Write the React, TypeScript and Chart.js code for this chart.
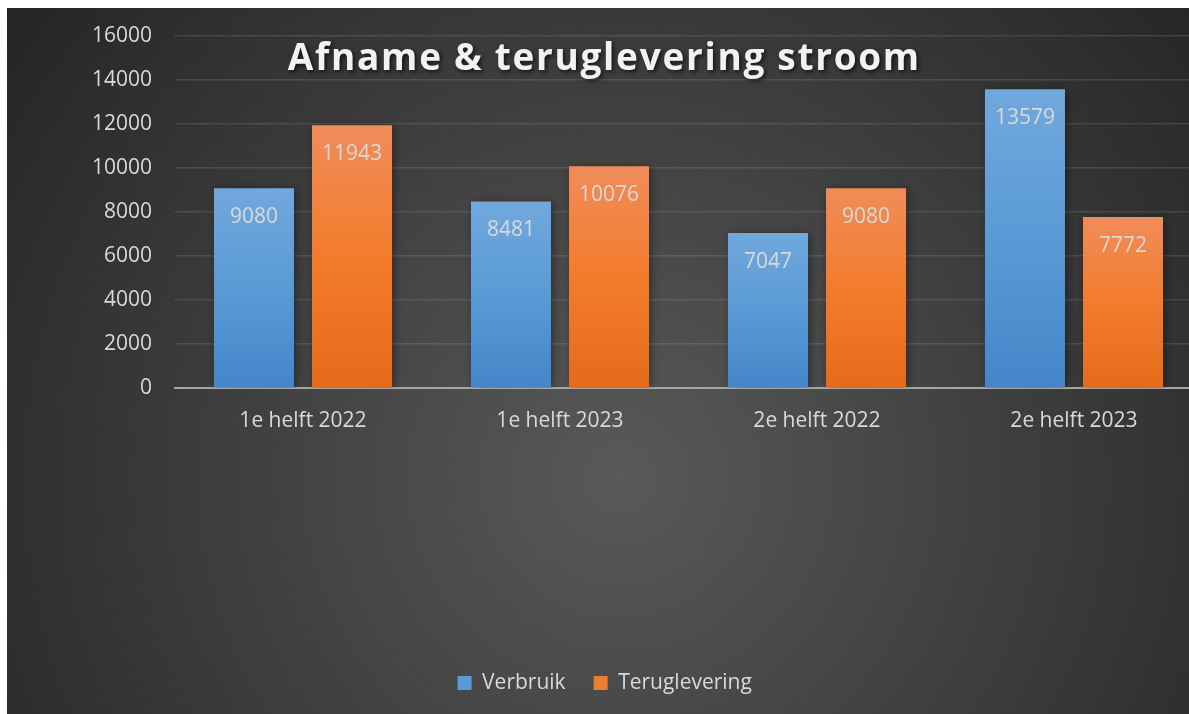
import React, { useEffect, useRef } from "react";
import { Chart, registerables } from "chart.js";

Chart.register(...registerables);

const categories = ["1e helft 2022", "1e helft 2023", "2e helft 2022", "2e helft 2023"];
const verbruik = [9080, 8481, 7047, 13579];
const teruglevering = [11943, 10076, 9080, 7772];
const seriesNames = ["Verbruik", "Teruglevering"];
const yMin = 0;
const yMax = 16000;
const yStep = 2000;
const chartTitle = "Afname & teruglevering stroom";

const FONT = "'Open Sans', 'Noto Sans', sans-serif";
const TEXT = "#d9d9d9";
const BLUE_STOPS = ["#71a8dd", "#5a9ad6", "#4486c9"];
const ORANGE_STOPS = ["#f08c5a", "#f37c2c", "#e56b1a"];
const BLUE_SOLID = "#5b9bd5";
const ORANGE_SOLID = "#ed7d31";

const W = 1200;
const H = 706;

function barGradient(stops: string[]) {
  return (ctx: any) => {
    const chart = ctx.chart;
    const y = chart.scales && chart.scales.y;
    if (!y || ctx.raw == null || ctx.type !== "data") return stops[1];
    const top = y.getPixelForValue(ctx.raw);
    const bottom = y.getPixelForValue(0);
    if (!isFinite(top) || !isFinite(bottom) || top === bottom) return stops[1];
    const g = chart.ctx.createLinearGradient(0, top, 0, bottom);
    g.addColorStop(0, stops[0]);
    g.addColorStop(0.5, stops[1]);
    g.addColorStop(1, stops[2]);
    return g;
  };
}

const backgroundPlugin = {
  id: "bgPlugin",
  beforeDraw(chart: any) {
    const c = chart.ctx;
    c.save();
    const cx = 613;
    const cy = 470;
    const g = c.createRadialGradient(cx, cy, 0, cx, cy, 780);
    g.addColorStop(0, "#595959");
    g.addColorStop(1, "#242424");
    c.fillStyle = g;
    c.fillRect(0, 0, chart.width, chart.height);
    c.restore();
  },
};

const barDecorPlugin = {
  id: "barDecor",
  beforeDatasetsDraw(chart: any) {
    const c = chart.ctx;
    c.save();
    c.shadowColor = "rgba(0,0,0,0.45)";
    c.shadowBlur = 9;
    c.shadowOffsetX = 2;
    c.shadowOffsetY = 1;
  },
  afterDatasetsDraw(chart: any) {
    const c = chart.ctx;
    c.restore();
    c.save();
    c.font = `21px ${FONT}`;
    c.fillStyle = TEXT;
    c.textAlign = "center";
    c.textBaseline = "alphabetic";
    chart.data.datasets.forEach((ds: any, di: number) => {
      const meta = chart.getDatasetMeta(di);
      meta.data.forEach((bar: any, i: number) => {
        c.fillText(String(ds.data[i]), bar.x, bar.y + 35);
      });
    });
    c.restore();
  },
  afterDraw(chart: any) {
    const c = chart.ctx;
    c.save();
    c.font = `bold 37px ${FONT}`;
    (c as any).letterSpacing = "0px";
    const base = c.measureText(chartTitle).width;
    const target = 633;
    const n = chartTitle.length;
    const ls = Math.max(0, (target - base) / n);
    (c as any).letterSpacing = `${ls}px`;
    c.textAlign = "center";
    c.textBaseline = "alphabetic";
    c.shadowColor = "rgba(0,0,0,0.65)";
    c.shadowBlur = 4;
    c.shadowOffsetX = 2;
    c.shadowOffsetY = 2;
    c.fillStyle = "#f2f2f2";
    c.fillText(chartTitle, 596.5 + ls / 2, 62);
    c.restore();
  },
};

export default function App() {
  const ref = useRef<HTMLCanvasElement | null>(null);

  useEffect(() => {
    if (!ref.current) return;
    const chart = new Chart(ref.current, {
      type: "bar",
      data: {
        labels: categories,
        datasets: [
          {
            label: seriesNames[0],
            data: verbruik,
            backgroundColor: barGradient(BLUE_STOPS) as any,
            borderWidth: 0,
            categoryPercentage: 0.763,
            barPercentage: 0.816,
          },
          {
            label: seriesNames[1],
            data: teruglevering,
            backgroundColor: barGradient(ORANGE_STOPS) as any,
            borderWidth: 0,
            categoryPercentage: 0.763,
            barPercentage: 0.816,
          },
        ],
      },
      options: {
        responsive: false,
        animation: false,
        devicePixelRatio: 1,
        layout: { padding: { top: 28, left: 0, right: 4.5, bottom: 10.5 } },
        plugins: {
          title: { display: false },
          tooltip: { enabled: false },
          legend: {
            display: true,
            position: "bottom",
            labels: {
              boxWidth: 14,
              boxHeight: 14,
              padding: 28,
              color: TEXT,
              font: { size: 21, family: FONT },
              generateLabels: () => [
                { text: seriesNames[0], fillStyle: BLUE_SOLID, strokeStyle: BLUE_SOLID, lineWidth: 0, fontColor: TEXT, datasetIndex: 0, hidden: false },
                { text: seriesNames[1], fillStyle: ORANGE_SOLID, strokeStyle: ORANGE_SOLID, lineWidth: 0, fontColor: TEXT, datasetIndex: 1, hidden: false },
              ] as any,
            },
          },
        },
        scales: {
          x: {
            grid: { display: false, drawTicks: false },
            border: { display: true, color: "#a6a6a6", width: 2 },
            ticks: { color: TEXT, font: { size: 21, family: FONT }, padding: 20 },
            afterFit: (s: any) => {
              s.height = 256.5;
            },
          },
          y: {
            min: yMin,
            max: yMax,
            ticks: {
              stepSize: yStep,
              color: TEXT,
              font: { size: 21, family: FONT },
              padding: 22.5,
              callback: (v: any) => String(v),
            },
            grid: { color: "rgba(255,255,255,0.11)", lineWidth: 1.5, drawTicks: false },
            border: { display: false },
            afterFit: (s: any) => {
              s.width = 167.5;
              s.paddingTop = 0;
              s.paddingBottom = 0;
            },
          },
        },
      },
      plugins: [backgroundPlugin, barDecorPlugin],
    });
    return () => chart.destroy();
  }, []);

  return (
    <div
      style={{
        position: "fixed",
        left: 7,
        top: 8,
        width: 1182,
        height: 706,
        overflow: "hidden",
      }}
    >
      <canvas ref={ref} width={W} height={H} style={{ display: "block", width: W, height: H }} />
    </div>
  );
}
